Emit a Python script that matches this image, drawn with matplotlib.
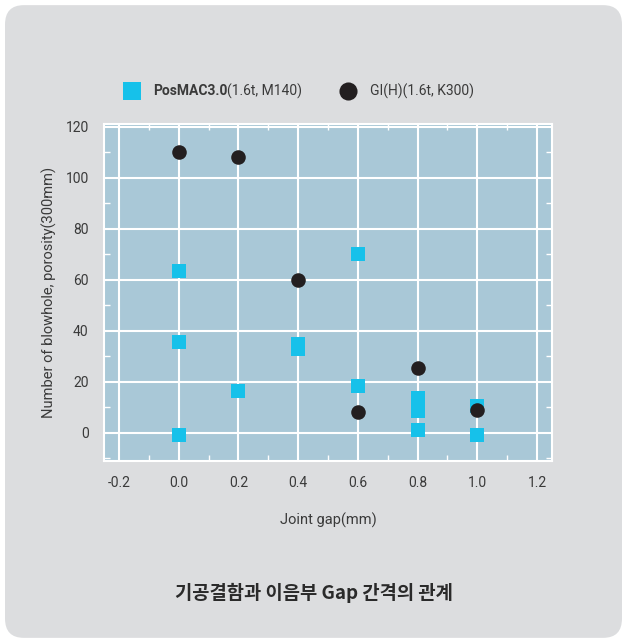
import matplotlib
matplotlib.use('Agg')
import matplotlib.pyplot as plt
from matplotlib.patches import FancyBboxPatch
from matplotlib.ticker import MultipleLocator

# 데이터
posmac_gap = [0.0, 0.0, 0.0, 0.2, 0.4, 0.4, 0.6, 0.6, 0.8, 0.8, 0.8, 1.0, 1.0]
posmac_cnt = [63.5, 35.5, -1, 16.5, 35, 33, 70, 18.5, 13.5, 8.5, 1, 10.5, -1]
gi_gap = [0.0, 0.2, 0.4, 0.6, 0.8, 1.0]
gi_cnt = [110, 108, 60, 8, 25.5, 9]
x_ticks = [-0.2, 0.0, 0.2, 0.4, 0.6, 0.8, 1.0, 1.2]
y_ticks = [0, 20, 40, 60, 80, 100, 120]

# 색상
bg = '#dcdddf'
panel = '#a9c8d7'
cyan = '#16c1ea'
dark = '#231f20'
txt = '#3a3a3a'

plt.rcParams['font.family'] = ['Roboto', 'DejaVu Sans']

fig = plt.figure(figsize=(6.27, 6.43), dpi=100)
fig.patch.set_facecolor('white')
card = FancyBboxPatch((0.008, 0.008), 0.984, 0.984, boxstyle='round,pad=0,rounding_size=0.03',
                      transform=fig.transFigure, facecolor=bg, edgecolor='none', zorder=-10)
fig.patches.append(card)

ax = fig.add_axes([104 / 627, 1 - 461 / 643, 448 / 627, 337 / 643])
ax.set_facecolor(panel)
ax.scatter(posmac_gap, posmac_cnt, marker='s', s=92, color=cyan, zorder=3, linewidths=0)
ax.scatter(gi_gap, gi_cnt, marker='o', s=110, color=dark, zorder=4, linewidths=0)

ax.set_xlim(-0.25, 1.25)
ax.set_ylim(-11, 121)
ax.set_xticks(x_ticks)
ax.set_xticklabels(['%.1f' % v for v in x_ticks])
ax.set_yticks(y_ticks)
ax.xaxis.set_minor_locator(MultipleLocator(0.1))
ax.yaxis.set_minor_locator(MultipleLocator(10))
ax.grid(True, which='major', color='white', linewidth=1.5, zorder=1)
ax.set_axisbelow(True)
ax.tick_params(which='both', direction='in', color='white', top=True, right=True,
               labelsize=10, labelcolor=txt, pad=11)
ax.tick_params(which='major', length=0)
ax.tick_params(which='minor', length=4, width=1)
for s in ax.spines.values():
    s.set_color('white')
    s.set_linewidth(1.5)

ax.set_xlabel('Joint gap(mm)', fontsize=10.5, color=txt, labelpad=16)
ax.set_ylabel('Number of blowhole, porosity(300mm)', fontsize=10.5, color=txt, labelpad=6)

# 범례 (픽셀 좌표용 투명 axes)
lx = fig.add_axes([0, 0, 1, 1], facecolor='none')
lx.set_xlim(0, 627)
lx.set_ylim(643, 0)
lx.axis('off')
lx.scatter([132], [91], marker='s', s=175, color=cyan, linewidths=0)
lx.scatter([348], [91], marker='o', s=170, color=dark, linewidths=0)
t1 = lx.text(153, 91, 'PosMAC3.0', fontsize=10, fontweight='bold', color=txt, va='center')
fig.canvas.draw()
bb = t1.get_window_extent()
lx.text(bb.x1, 91, '(1.6t, M140)', fontsize=10, color=txt, va='center')
lx.text(370, 91, 'GI(H)(1.6t, K300)', fontsize=10, color=txt, va='center')

fig.text(0.5, 1 - 593 / 643, '기공결함과 이음부 Gap 간격의 관계', ha='center', va='center',
         fontsize=13.5, fontweight='bold', color='#2a2a2a',
         family=['Noto Sans CJK KR', 'DejaVu Sans'])

fig.savefig('out.png', dpi=100, facecolor=fig.get_facecolor())
